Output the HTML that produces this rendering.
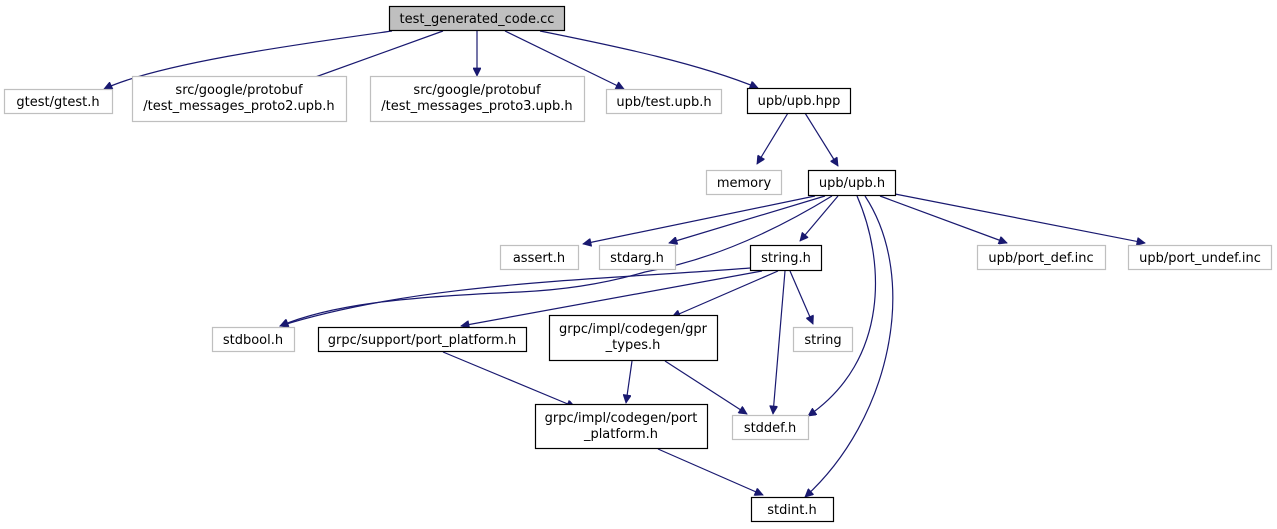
<!DOCTYPE html>
<html><head><meta charset="utf-8"><style>
html,body{margin:0;padding:0;background:#fff;}
svg{display:block;}
text{font-family:"DejaVu Sans","Liberation Sans",sans-serif;font-size:13px;fill:#000;}
.g{fill:#fff;stroke:#bfbfbf;stroke-width:1.2}
.b{fill:#fff;stroke:#000;stroke-width:1.2}
.e{fill:none;stroke:#191970;stroke-width:1.2}
</style></head><body>
<svg width="1277" height="529" viewBox="0 0 1277 529" xmlns="http://www.w3.org/2000/svg">
<defs><marker id="a" viewBox="0 0 10 10" refX="10" refY="5" markerWidth="10" markerHeight="8" markerUnits="userSpaceOnUse" orient="auto"><path d="M0,0L10,5L0,10z" fill="#191970" stroke="#191970"/></marker></defs>
<g class="e" marker-end="url(#a)">
<path d="M392,31 C300,44 160,63 104,89"/>
<path d="M443,31 L296,84"/>
<path d="M477,31 L477,76"/>
<path d="M505,31 L624,89"/>
<path d="M540,31 C620,47 700,64 758,88"/>
<path d="M788,113 L757,164"/>
<path d="M805,113 L838,166"/>
<path d="M815,196 L583,244"/>
<path d="M825,196 L669,243"/>
<path d="M838,196 L800,241"/>
<path d="M832,196 C760,240 700,262 645,272 C600,285 560,290 520,292 C400,297 330,305 280,326"/>
<path d="M880,196 L1007,243"/>
<path d="M895,194 L1145,243"/>
<path d="M857,196 C885,260 890,360 808,416"/>
<path d="M865,196 C920,280 890,420 805,497"/>
<path d="M750,268 C600,280 420,282 280,326"/>
<path d="M762,271 L461,326"/>
<path d="M778,271 L672,317"/>
<path d="M790,271 L813,324"/>
<path d="M785,271 L773,414"/>
<path d="M443,352 L575,407"/>
<path d="M632,361 L626,403"/>
<path d="M665,361 L747,414"/>
<path d="M658,449 L763,495"/>
</g>
<rect x="389.5" y="6.5" width="175" height="24" fill="#bfbfbf" stroke="#000" stroke-width="1.2"/>
<text x="477" y="23" text-anchor="middle">test_generated_code.cc</text>
<rect class="g" x="4.5" y="89.5" width="108" height="24"/><text x="58" y="106" text-anchor="middle">gtest/gtest.h</text>
<rect class="g" x="132.5" y="76.5" width="214" height="45"/><text x="239" y="94" text-anchor="middle">src/google/protobuf</text><text x="239" y="110" text-anchor="middle">/test_messages_proto2.upb.h</text>
<rect class="g" x="370.5" y="76.5" width="214" height="45"/><text x="477" y="94" text-anchor="middle">src/google/protobuf</text><text x="477" y="110" text-anchor="middle">/test_messages_proto3.upb.h</text>
<rect class="g" x="606.5" y="89.5" width="115" height="24"/><text x="664" y="106" text-anchor="middle">upb/test.upb.h</text>
<rect class="b" x="747.5" y="88.5" width="103" height="25"/><text x="799" y="105" text-anchor="middle">upb/upb.hpp</text>
<rect class="g" x="706.5" y="170.5" width="75" height="24"/><text x="744" y="187" text-anchor="middle">memory</text>
<rect class="b" x="808.5" y="170.5" width="87" height="25"/><text x="852" y="187" text-anchor="middle">upb/upb.h</text>
<rect class="g" x="500.5" y="245.5" width="78" height="24"/><text x="539" y="262" text-anchor="middle">assert.h</text>
<rect class="g" x="599.5" y="245.5" width="76" height="24"/><text x="637" y="262" text-anchor="middle">stdarg.h</text>
<rect class="b" x="750.5" y="245.5" width="71" height="25"/><text x="786" y="262" text-anchor="middle">string.h</text>
<rect class="g" x="977.5" y="245.5" width="128" height="24"/><text x="1041" y="262" text-anchor="middle">upb/port_def.inc</text>
<rect class="g" x="1128.5" y="245.5" width="143" height="24"/><text x="1200" y="262" text-anchor="middle">upb/port_undef.inc</text>
<rect class="g" x="212.5" y="327.5" width="82" height="24"/><text x="253" y="344" text-anchor="middle">stdbool.h</text>
<rect class="b" x="318.5" y="327.5" width="208" height="24"/><text x="422" y="344" text-anchor="middle">grpc/support/port_platform.h</text>
<rect class="b" x="549.5" y="315.5" width="168" height="45"/><text x="633" y="333" text-anchor="middle">grpc/impl/codegen/gpr</text><text x="633" y="349" text-anchor="middle">_types.h</text>
<rect class="g" x="793.5" y="327.5" width="59" height="24"/><text x="823" y="344" text-anchor="middle">string</text>
<rect class="b" x="535.5" y="404.5" width="172" height="44"/><text x="621" y="422" text-anchor="middle">grpc/impl/codegen/port</text><text x="621" y="438" text-anchor="middle">_platform.h</text>
<rect class="g" x="732.5" y="415.5" width="76" height="24"/><text x="770" y="432" text-anchor="middle">stddef.h</text>
<rect class="b" x="751.5" y="497.5" width="82" height="24"/><text x="792" y="514" text-anchor="middle">stdint.h</text>
</svg>
</body></html>
